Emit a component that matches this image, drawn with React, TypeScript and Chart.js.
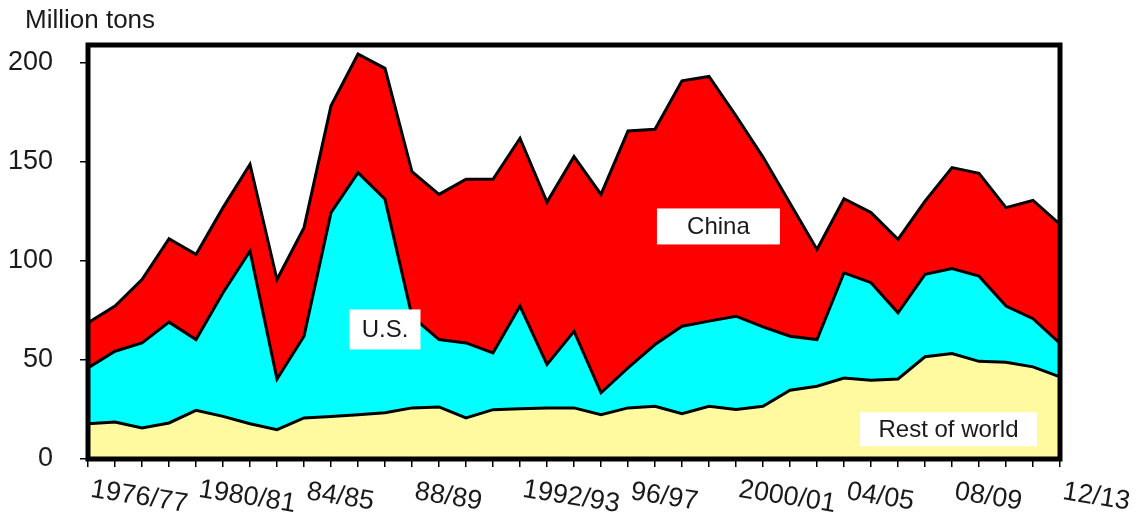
import React, { useEffect, useRef } from "react";
import { Chart, registerables } from "chart.js";

Chart.register(...registerables);

// ---- data ----
const categories: string[] = [
  "1976/77", "1977/78", "1978/79", "1979/80", "1980/81", "81/82", "82/83", "83/84",
  "84/85", "85/86", "86/87", "87/88", "88/89", "89/90", "90/91", "91/92",
  "1992/93", "93/94", "94/95", "95/96", "96/97", "97/98", "98/99", "99/00",
  "2000/01", "01/02", "02/03", "03/04", "04/05", "05/06", "06/07", "07/08",
  "08/09", "09/10", "10/11", "11/12", "12/13",
];

const restOfWorld: number[] = [
  17.8, 18.7, 15.7, 18.2, 24.6, 21.5, 17.8, 14.8, 20.7, 21.5, 22.4, 23.3,
  25.8, 26.3, 20.7, 24.9, 25.4, 25.8, 25.8, 22.4, 25.8, 26.6, 22.9, 26.6,
  25.0, 26.6, 34.7, 36.7, 40.9, 39.7, 40.4, 51.6, 53.2, 49.3, 48.8, 46.5, 41.5,
];

const us: number[] = [
  28.2, 35.7, 42.9, 50.9, 35.7, 62.4, 87.2, 25.6, 41.3, 102.9, 122.2, 107.8,
  46.2, 34.0, 37.9, 28.7, 51.8, 21.9, 38.7, 11.0, 20.2, 31.2, 44.1, 43.0,
  47.1, 40.1, 27.3, 23.6, 53.1, 49.3, 33.4, 41.6, 42.9, 43.0, 28.4, 24.3, 16.8,
];

const china: number[] = [
  22.8, 22.8, 32.0, 42.1, 43.0, 43.0, 43.8, 50.2, 54.8, 53.9, 59.8, 66.1,
  73.0, 73.3, 82.6, 87.6, 84.7, 82.0, 88.2, 100.2, 119.6, 108.7, 123.9, 123.5,
  101.1, 85.7, 67.1, 45.5, 37.4, 35.4, 37.1, 37.0, 51.0, 51.9, 49.7, 59.8, 60.2,
];

const yMin = 0;
const yMax = 209;
const yStep = 50;
const labelEvery = 4;
const unitLabel = "Million tons";

// in-chart labels, anchored in data space (category index, value)
const seriesLabels = [
  { text: "China", at: 23.35, value: 117.4, w: 123, h: 36 },
  { text: "U.S.", at: 11.0, value: 65.4, w: 71, h: 40 },
  { text: "Rest of world", at: 31.87, value: 15.0, w: 177, h: 34 },
];

const FONT = '"Liberation Sans", Arial, sans-serif';

const decorPlugin = {
  id: "decor",
  afterDatasetsDraw(chart: any) {
    const { ctx, scales } = chart;
    const xs = scales.x;
    const ys = scales.y;
    ctx.save();
    for (const s of seriesLabels) {
      const cx = xs.getPixelForValue(s.at);
      const cy = ys.getPixelForValue(s.value);
      ctx.fillStyle = "#ffffff";
      ctx.fillRect(cx - s.w / 2, cy - s.h / 2, s.w, s.h);
      ctx.fillStyle = "#1a1a1a";
      ctx.font = `24px ${FONT}`;
      ctx.textAlign = "center";
      ctx.textBaseline = "middle";
      ctx.fillText(s.text, cx, cy + 1);
    }
    ctx.restore();
  },
  afterDraw(chart: any) {
    const { ctx, chartArea: a, scales } = chart;
    const xs = scales.x;
    ctx.save();
    // frame
    ctx.strokeStyle = "#000";
    ctx.lineWidth = 5;
    ctx.strokeRect(a.left, a.top, a.right - a.left, a.bottom - a.top);
    // unit title
    ctx.fillStyle = "#1a1a1a";
    ctx.font = `26px ${FONT}`;
    ctx.textAlign = "left";
    ctx.textBaseline = "alphabetic";
    ctx.fillText(unitLabel, 25, 28);
    // rotated category labels
    const ang = (9 * Math.PI) / 180;
    ctx.font = `27px ${FONT}`;
    for (let i = 0; i < categories.length; i += labelEvery) {
      const t = categories[i];
      const w = ctx.measureText(t).width;
      const x0 = xs.getPixelForValue(i) + 3;
      const cx = x0 + (w / 2) * Math.cos(ang);
      const cy = a.bottom + 38;
      ctx.save();
      ctx.translate(cx, cy);
      ctx.rotate(ang);
      ctx.textAlign = "center";
      ctx.textBaseline = "middle";
      ctx.fillText(t, 0, 0);
      ctx.restore();
    }
    ctx.restore();
  },
};

export default function App() {
  const ref = useRef<HTMLCanvasElement | null>(null);

  useEffect(() => {
    if (!ref.current) return;
    const chart = new Chart(ref.current, {
      type: "line",
      data: {
        labels: categories,
        datasets: [
          {
            label: "Rest of world",
            data: restOfWorld,
            backgroundColor: "#FFF9A0",
            borderColor: "#000",
            borderWidth: 3,
            fill: "origin",
            pointRadius: 0,
            tension: 0,
          },
          {
            label: "U.S.",
            data: us,
            backgroundColor: "#00FFFF",
            borderColor: "#000",
            borderWidth: 3,
            fill: "-1",
            pointRadius: 0,
            tension: 0,
          },
          {
            label: "China",
            data: china,
            backgroundColor: "#FF0000",
            borderColor: "#000",
            borderWidth: 3,
            fill: "-1",
            pointRadius: 0,
            tension: 0,
          },
        ],
      },
      options: {
        responsive: false,
        animation: false,
        devicePixelRatio: 1,
        layout: { padding: { top: 45, right: 77, left: 0, bottom: 0 } },
        plugins: {
          legend: { display: false },
          tooltip: { enabled: false },
          title: { display: false },
        },
        scales: {
          x: {
            type: "category",
            offset: false,
            grid: {
              display: true,
              drawOnChartArea: false,
              drawTicks: true,
              tickLength: 8,
              color: "#000",
              lineWidth: 1.5,
              offset: false,
            },
            border: { display: false },
            ticks: { display: false, autoSkip: false },
            afterFit: (s: any) => {
              s.height = 59;
            },
          },
          y: {
            stacked: true,
            min: yMin,
            max: yMax,
            grid: {
              display: true,
              drawOnChartArea: false,
              drawTicks: true,
              tickLength: 8,
              color: "#000",
              lineWidth: 1.5,
            },
            border: { display: false },
            ticks: {
              stepSize: yStep,
              includeBounds: false,
              padding: 27,
              color: "#1a1a1a",
              font: { family: FONT, size: 27 },
              callback: (v: any) => (Number(v) % yStep === 0 ? String(v) : ""),
            },
            afterFit: (s: any) => {
              s.width = 88;
            },
          },
        },
      },
      plugins: [decorPlugin],
    });
    return () => chart.destroy();
  }, []);

  return (
    <div style={{ position: "absolute", left: 0, top: 0, width: 1137, height: 518, background: "#fff" }}>
      <canvas ref={ref} width={1137} height={518} style={{ width: 1137, height: 518, display: "block" }} />
    </div>
  );
}
